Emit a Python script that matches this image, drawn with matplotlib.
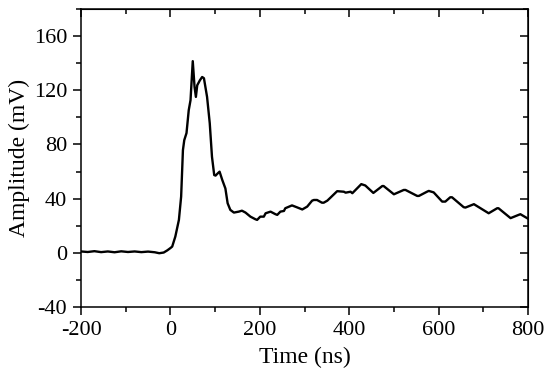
import matplotlib.pyplot as plt
from matplotlib.ticker import MultipleLocator

# signal trace (time in ns, amplitude in mV)
time_ns = [-200, -185, -170, -155, -140, -125, -110, -95, -80, -65, -50, -35, -25, -15, -7,
           0, 4, 11, 19, 24, 28, 31, 36, 41, 45, 50, 54, 57, 60, 66, 71, 75, 82, 88, 93,
           98, 101, 106, 110, 116, 123, 128, 134, 142, 153, 160, 168, 179, 190, 194, 201,
           209, 213, 224, 235, 239, 246, 254, 257, 272, 283, 295, 306, 317, 321, 328, 339,
           343, 351, 358, 373, 388, 392, 403, 407, 427, 436, 454, 474, 477, 500, 522, 526,
           552, 556, 574, 578, 589, 608, 615, 626, 630, 656, 660, 679, 712, 731, 734, 761,
           779, 783, 800]
amp_mv = [1.0, 0.6, 1.2, 0.5, 1.0, 0.4, 1.1, 0.6, 1.0, 0.5, 0.9, 0.4, -0.3, 0.2, 1.8,
          3.5, 4.6, 12.0, 24.3, 41.5, 75.8, 83.2, 88.4, 105.3, 112.7, 141.5, 122.5, 115.1, 123.7, 127.4, 129.8, 128.9, 115.1, 95.7, 70.9,
          57.4, 57.0, 58.7, 59.9, 53.8, 47.5, 36.6, 31.7, 29.7, 30.4, 31.1, 29.7, 26.7, 24.8, 24.3, 26.7,
          26.7, 29.2, 30.4, 28.5, 28.0, 30.4, 30.9, 32.9, 35.0, 33.6, 32.0, 34.1, 38.5, 39.0, 39.0, 37.0,
          37.0, 38.5, 40.7, 45.5, 45.1, 44.4, 45.1, 44.0, 50.7, 49.7, 44.2, 49.3, 49.3, 43.2, 46.4, 46.4,
          42.0, 42.0, 45.1, 45.7, 44.6, 37.8, 37.8, 41.0, 41.0, 33.7, 33.4, 35.9, 29.2, 32.9, 32.9, 25.6,
          28.0, 28.5, 25.2]

x_ticks = [-200, 0, 200, 400, 600, 800]
y_ticks = [-40, 0, 40, 80, 120, 160]

plt.rcParams['font.family'] = ['Liberation Serif', 'DejaVu Serif']
plt.rcParams['font.size'] = 16
plt.rcParams['axes.unicode_minus'] = False

fig = plt.figure(figsize=(5.5, 3.88), dpi=100)
ax = fig.add_axes([0.1473, 0.2088, 0.8127, 0.768])

ax.plot(time_ns, amp_mv, color='black', lw=1.7)

ax.set_xlim(-200, 800)
ax.set_ylim(-40, 180)
ax.set_xticks(x_ticks)
ax.set_yticks(y_ticks)
ax.xaxis.set_minor_locator(MultipleLocator(100))
ax.yaxis.set_minor_locator(MultipleLocator(20))
ax.tick_params(which='major', direction='out', length=6, width=1.1, pad=4)
ax.tick_params(which='minor', direction='out', length=3.6, width=1.1)
ax.tick_params(axis='y', which='major', pad=4)
for s in ax.spines.values():
    s.set_linewidth(1.1)

# mirrored ticks on top and right, pointing inward
top = ax.secondary_xaxis('top')
top.set_xticks(x_ticks)
top.xaxis.set_minor_locator(MultipleLocator(100))
top.tick_params(which='major', direction='in', length=6, width=1.1, labeltop=False)
top.tick_params(which='minor', direction='in', length=3.6, width=1.1)
right = ax.secondary_yaxis('right')
right.set_yticks(y_ticks)
right.yaxis.set_minor_locator(MultipleLocator(20))
right.tick_params(which='major', direction='in', length=6, width=1.1, labelright=False)
right.tick_params(which='minor', direction='in', length=3.6, width=1.1)

ax.set_xlabel("Time (ns)", fontsize=17, labelpad=5)
ax.set_ylabel("Amplitude (mV)", fontsize=17, labelpad=3)

fig.savefig("out.png", dpi=100)
